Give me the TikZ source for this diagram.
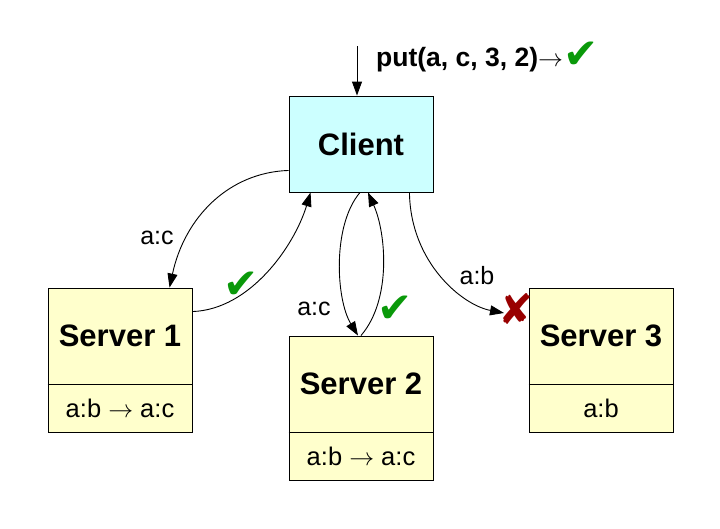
\documentclass[tikz,border=0pt]{standalone}
\usepackage{fontspec}
\setmainfont{Liberation Sans}
\newfontfamily\dejavu{DejaVu Sans}
\usetikzlibrary{arrows.meta,calc}
\definecolor{clientfill}{HTML}{CCFFFF}
\definecolor{serverfill}{HTML}{FFFFCC}
\definecolor{okgreen}{HTML}{0A990A}
\definecolor{badred}{HTML}{990000}
\begin{document}
\begin{tikzpicture}[x=1pt,y=-1pt,
  box/.style={draw=black,line width=0.9pt,inner sep=0pt,minimum width=144pt},
  clientbox/.style={box,fill=clientfill,minimum height=96pt},
  serverbox/.style={box,fill=serverfill,minimum height=144pt},
  title/.style={font=\fontsize{31}{36}\selectfont\bfseries},
  content/.style={font=\fontsize{25.5}{30}\selectfont},
  elabel/.style={font=\fontsize{25}{30}\selectfont},
  okmark/.style={text=okgreen,font=\dejavu\fontsize{42}{48}\selectfont},
  badmark/.style={text=badred,font=\dejavu\fontsize{42}{48}\selectfont},
  arr/.style={line width=0.9pt,-{Triangle[length=14pt,width=10pt]}}
]
\useasboundingbox (0,0) rectangle (720,528);

% boxes
\node[clientbox] (client) at (361,144) {};
\node[title] (clienttext) at (client.center) {Client};

\node[serverbox] (s1) at (120,360) {};
\node[serverbox] (s2) at (361,408) {};
\node[serverbox] (s3) at (601,360) {};

\foreach \s/\t/\c in {s1/Server 1/{a:b \(\rightarrow\) a:c},s2/Server 2/{a:b \(\rightarrow\) a:c},s3/Server 3/{a:b}}{
  \draw[line width=0.9pt] ($(\s.south west)+(0,-48)$) -- ($(\s.south east)+(0,-48)$);
  \node[title] (\s title) at ($(\s.north)+(0,48)$) {\t};
  \node[content] (\s content) at ($(\s.south)+(0,-24)$) {\c};
}

% top incoming arrow
\coordinate (topin) at (357,46);
\draw[arr] (topin) -- (client.north -| topin);
\node[anchor=west,inner sep=0pt,font=\fontsize{26.5}{30}\selectfont\bfseries] (putlabel) at (376,57)
  {put(a, c, 3, 2)\(\rightarrow\)\raisebox{-2pt}{\textcolor{okgreen}{\dejavu\fontsize{42}{48}\selectfont ✔}}};

% Client -> Server 1
\draw[arr] ($(client.south west)+(0,-22)$) .. controls +(-60,2) and +(15,-70) .. ($(s1.north west)+(122,0)$);
\node[elabel] (l1) at (157,238) {a:c};
% Server 1 -> Client
\draw[arr] ($(s1.north east)+(0,24)$) .. controls +(58,-2) and +(-16,53) .. ($(client.south west)+(22,0)$);
\node[okmark] (ok1) at (241,285) {✔};

% Client -> Server 2
\draw[arr] ($(client.south)+(-1,0)$) .. controls +(-28,33) and +(-22,-36) .. ($(s2.north)+(-3,0)$);
\node[elabel] (l2) at (314,309) {a:c};
% Server 2 -> Client
\draw[arr] (s2.north) .. controls +(31,-36) and +(18,40) .. ($(client.south)+(7,0)$);
\node[okmark] (ok2) at (395,309) {✔};

% Client -> Server 3 (fails)
\coordinate (s3in) at (504,313);
\draw[arr] ($(client.south east)+(-24,0)$) .. controls +(1,70) and +(-42,-8) .. (s3in);
\node[elabel] (l3) at (477,276) {a:b};
\node[badmark] (bad3) at (516,309) {✘};
\end{tikzpicture}
\end{document}
